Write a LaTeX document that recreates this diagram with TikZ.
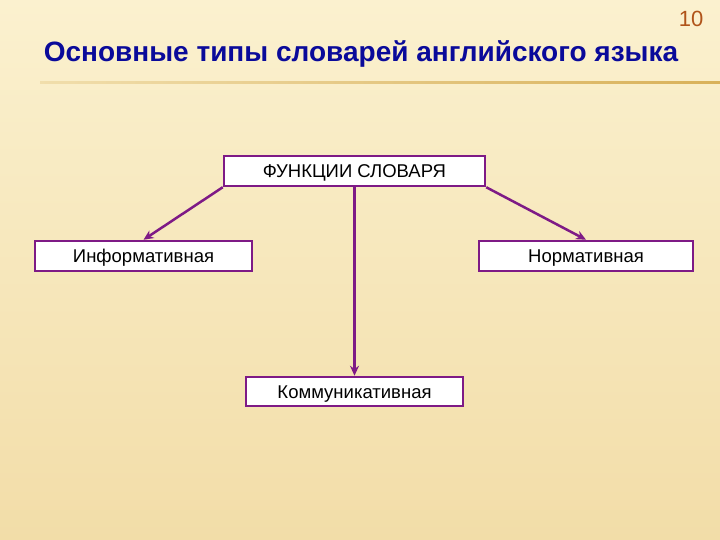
\documentclass[tikz,border=0pt]{standalone}
\usepackage{fontspec}
\setmainfont{Liberation Sans}
\usetikzlibrary{arrows.meta}
\definecolor{bgtop}{HTML}{FBF1CF}
\definecolor{bgbot}{HTML}{F2DDA8}
\definecolor{boxline}{HTML}{7E1A86}
\definecolor{titleblue}{HTML}{0A0A9A}
\definecolor{numcol}{HTML}{B0541A}
\definecolor{rulecol}{HTML}{D9B15A}
\tikzset{
  fbox/.style={draw=boxline, line width=2.5pt, fill=white, inner sep=0pt, font=\fontsize{18.5}{20}\selectfont, text depth=0pt, text height=13pt},
  conn/.style={draw=boxline, line width=2.5pt, -{Stealth[length=10pt,width=9pt]}},
}
\begin{document}
\begin{tikzpicture}[x=1pt,y=-1pt]
\useasboundingbox (0,0) rectangle (720,540);
\shade[top color=bgtop, bottom color=bgbot] (0,0) rectangle (720,540);
\shade[left color=rulecol!30!bgtop, right color=rulecol] (40,82) rectangle (720,84);
\node[text=numcol, font=\fontsize{22}{24}\selectfont] (num) at (691,19) {10};
\node[text=titleblue, font=\fontsize{28}{32}\selectfont\bfseries] (title) at (361,54) {Основные типы словарей английского языка};
\node[fbox, minimum width=261pt, minimum height=30pt] (top) at (354.5,171) {ФУНКЦИИ СЛОВАРЯ};
\node[fbox, minimum width=217pt, minimum height=30pt] (inf) at (143.5,256) {Информативная};
\node[fbox, minimum width=214pt, minimum height=30pt] (norm) at (586,256) {Нормативная};
\node[fbox, minimum width=217pt, minimum height=29pt] (comm) at (354.5,391.5) {Коммуникативная};
\draw[conn] (top.south west) -- (inf.north);
\draw[conn] (top.south east) -- (norm.north);
\draw[conn] (top.south) -- (comm.north);
\end{tikzpicture}
\end{document}
